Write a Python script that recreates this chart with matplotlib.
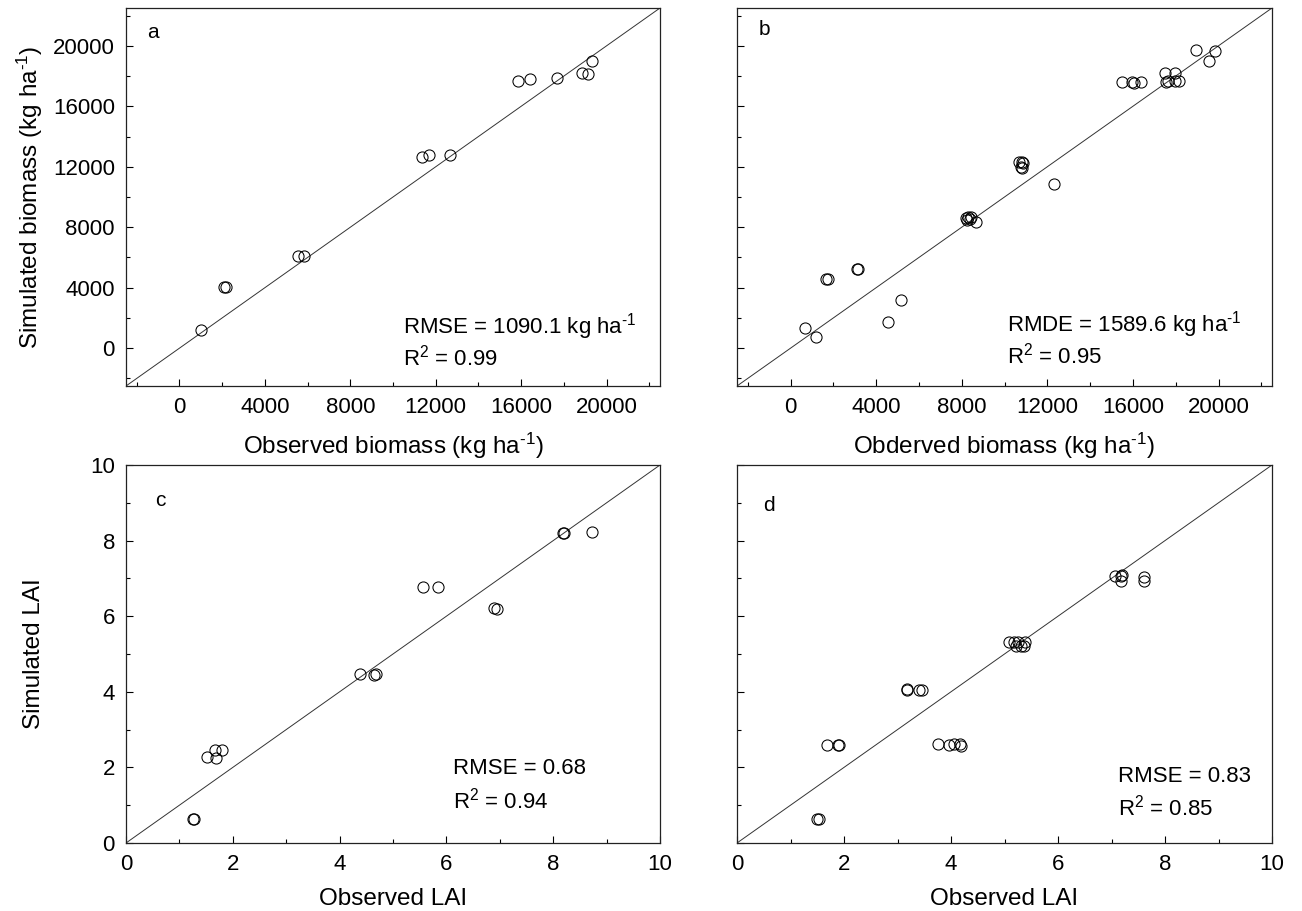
import matplotlib
matplotlib.use("Agg")
import matplotlib.pyplot as plt
from matplotlib.ticker import MultipleLocator

plt.rcParams['font.family'] = ['Liberation Sans', 'DejaVu Sans']
plt.rcParams['mathtext.fontset'] = 'custom'
plt.rcParams['mathtext.rm'] = 'Liberation Sans'
plt.rcParams['mathtext.it'] = 'Liberation Sans:italic'
plt.rcParams['mathtext.bf'] = 'Liberation Sans:bold'

# ---- data ----
a_obs = [1000, 2100, 2200, 5550, 5850, 11350, 11700, 12650, 15850, 16400, 17700, 18850, 19150, 19300]
a_sim = [1200, 4050, 4050, 6100, 6100, 12650, 12800, 12800, 17700, 17800, 17850, 18200, 18150, 19000]

b_obs = [700, 1200, 1650, 1750, 3100, 3150, 4550, 5150, 8200, 8250, 8300, 8450, 8400, 8650,
         10700, 10800, 10750, 10800, 10850, 12300, 15500, 15950, 16050, 16400, 17500, 17950,
         17550, 17650, 17950, 18150, 18950, 19550, 19850]
b_sim = [1350, 750, 4600, 4600, 5250, 5250, 1750, 3200, 8600, 8500, 8650, 8650, 8550, 8350,
         12300, 12300, 12000, 11950, 12250, 10850, 17600, 17600, 17550, 17600, 18200, 18200,
         17600, 17650, 17650, 17700, 19700, 19000, 19650]

c_obs = [1.25, 1.28, 1.52, 1.68, 1.66, 1.79, 4.38, 4.65, 4.69, 5.57, 5.84, 6.89, 6.94, 8.19, 8.21, 8.72]
c_sim = [0.63, 0.63, 2.27, 2.25, 2.46, 2.47, 4.46, 4.44, 4.46, 6.77, 6.77, 6.23, 6.19, 8.19, 8.21, 8.23]

d_obs = [1.49, 1.54, 1.68, 1.88, 1.90, 3.18, 3.18, 3.41, 3.46, 3.76, 3.97, 4.06, 4.16, 4.18,
         5.08, 5.17, 5.26, 5.22, 5.30, 5.38, 5.37, 7.06, 7.18, 7.18, 7.20, 7.60, 7.60]
d_sim = [0.64, 0.64, 2.58, 2.58, 2.58, 4.07, 4.05, 4.06, 4.04, 2.63, 2.59, 2.61, 2.61, 2.56,
         5.33, 5.33, 5.33, 5.22, 5.22, 5.33, 5.21, 7.07, 7.06, 6.93, 7.08, 7.05, 6.93]

bio_lim = [-2500, 22500]
lai_lim = [0, 10]
bio_ticks = [0, 4000, 8000, 12000, 16000, 20000]
lai_ticks = [0, 2, 4, 6, 8, 10]

panel_letters = ['a', 'b', 'c', 'd']
sup = r'$^{\text{-1}}$'
stats_lines = [
    ['RMSE = 1090.1 kg ha' + sup, 'R$^{2}$ = 0.99'],
    ['RMDE = 1589.6 kg ha' + sup, 'R$^{2}$ = 0.95'],
    ['RMSE = 0.68', 'R$^{2}$ = 0.94'],
    ['RMSE = 0.83', 'R$^{2}$ = 0.85'],
]
xlabels = ['Observed biomass (kg ha' + sup + ')', 'Obderved biomass (kg ha' + sup + ')',
           'Observed LAI', 'Observed LAI']
ylabels = ['Simulated biomass (kg ha' + sup + ')', None, 'Simulated LAI', None]

# ---- layout ----
W, H = 1302, 911
fig = plt.figure(figsize=(W / 100, H / 100), dpi=100)

boxes = [(126, 8, 660, 386), (737, 8, 1272, 386), (126, 465, 660, 843), (737, 465, 1272, 843)]
letter_pos = [(0.05, 0.935), (0.052, 0.942), (0.064, 0.907), (0.06, 0.893)]
stats_pos = [(0.518, 0.156, 0.074), (0.505, 0.163, 0.08), (0.612, 0.196, 0.112), (0.712, 0.177, 0.095)]

datasets = [(a_obs, a_sim), (b_obs, b_sim), (c_obs, c_sim), (d_obs, d_sim)]

for i, (l, t, r, b) in enumerate(boxes):
    ax = fig.add_axes([l / W, 1 - b / H, (r - l) / W, (b - t) / H])
    obs, sim = datasets[i]
    if i < 2:
        lim, ticks, minor = bio_lim, bio_ticks, 2000
    else:
        lim, ticks, minor = lai_lim, lai_ticks, 1
    ax.plot(lim, lim, color='#333333', lw=0.7, zorder=1)
    ax.plot(obs, sim, linestyle='none', marker='o', markersize=8,
            markerfacecolor='none', markeredgecolor='black', markeredgewidth=0.75, zorder=2)
    ax.set_xlim(lim)
    ax.set_ylim(lim)
    ax.set_xticks(ticks)
    ax.set_yticks(ticks)
    ax.xaxis.set_minor_locator(MultipleLocator(minor))
    ax.yaxis.set_minor_locator(MultipleLocator(minor))
    ax.tick_params(which='major', direction='in', length=5, width=0.8, labelsize=16, pad=8,
                   top=False, right=False, colors='black')
    ax.tick_params(which='minor', direction='in', length=2.6, width=0.8, top=False, right=False)
    if i in (1, 3):
        ax.tick_params(axis='y', labelleft=False)
    for s in ax.spines.values():
        s.set_linewidth(0.9)
        s.set_color('#222222')
    ax.set_xlabel(xlabels[i], fontsize=17.5)
    ax.xaxis.set_label_coords(0.5, -0.118)
    if ylabels[i]:
        ax.set_ylabel(ylabels[i], fontsize=17.5)
        ax.yaxis.set_label_coords(-0.152, 0.5)
    lx, ly = letter_pos[i]
    ax.text(lx, ly, panel_letters[i], transform=ax.transAxes, fontsize=15,
            ha='center', va='center')
    sx, sy1, sy2 = stats_pos[i]
    ax.text(sx, sy1, stats_lines[i][0], transform=ax.transAxes, fontsize=16,
            ha='left', va='center')
    ax.text(sx, sy2, stats_lines[i][1], transform=ax.transAxes, fontsize=16,
            ha='left', va='center')

fig.savefig('out.png', dpi=100)
